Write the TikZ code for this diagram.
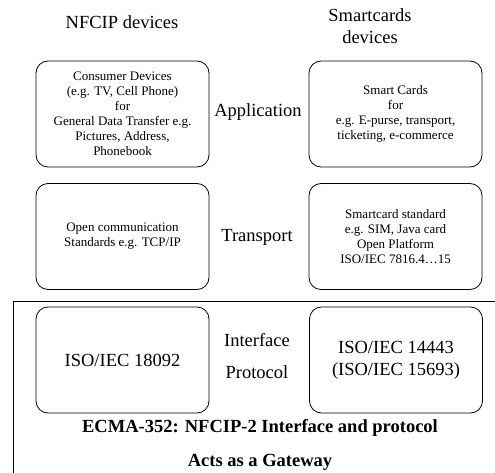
\documentclass[tikz,border=0pt]{standalone}
\usepackage{fontspec}
\setmainfont{Liberation Serif}
\begin{document}
\begin{tikzpicture}[x=1pt, y=-1pt, line width=0.8pt,
        layerbox/.style={draw, rounded corners=12pt, minimum width=173pt, minimum height=106pt,
            align=center, inner sep=0pt, font=\fontsize{13}{15}\selectfont},
        bigtext/.style={align=center, font=\fontsize{18.5}{22}\selectfont}]
        \useasboundingbox (0,0) rectangle (495,473);

        % Column headings
        \node[bigtext] (nfcip) at (122,22) {NFCIP devices};
        \node[bigtext] (smartcards) at (370,26) {Smartcards\\devices};

        % Application layer
        \node[layerbox] (nfcapp) at (122.5,114) {
            Consumer Devices \\
            (e.g. TV, Cell Phone) \\
            for \\
            General Data Transfer e.g. \\
            Pictures, Address, \\
            Phonebook
        };
        \node[bigtext] (application) at (258,112) {Application};
        \node[layerbox] (cardapp) at (395.5,114) {
            Smart Cards \\
            for \\
            e.g. E-purse, transport, \\
            ticketing, e-commerce
        };

        % Transport layer
        \node[layerbox] (nfctrans) at (122.5,236.5) {
            Open communication \\
            Standards e.g. TCP/IP
        };
        \node[bigtext] (transport) at (257,237) {Transport};
        \node[layerbox] (cardtrans) at (395.5,236.5) {
            Smartcard standard \\
            e.g. SIM, Java card \\
            Open Platform \\
            ISO/IEC 7816.4\ldots15
        };

        % Gateway frame, open to the right and below
        \begin{scope}
            \clip (0,0) rectangle (495,473);
            \draw (13,510) |- (510,301);
        \end{scope}

        % Interface and protocol layer
        \node[layerbox, font=\fontsize{18.5}{22}\selectfont] (nfcif) at (122.5,360) {ISO/IEC 18092};
        \node[bigtext] (interface) at (257,340) {Interface};
        \node[bigtext] (protocol) at (257,372) {Protocol};
        \node[layerbox, font=\fontsize{18.5}{22}\selectfont] (cardif) at (396,360) {
            ISO/IEC 14443 \\
            (ISO/IEC 15693)
        };

        % Captions
        \node[bigtext, font=\fontsize{18.5}{22}\selectfont\bfseries] (ecma) at (260,428) {ECMA-352: NFCIP-2 Interface and protocol};
        \node[bigtext, font=\fontsize{18.5}{22}\selectfont\bfseries] (gateway) at (260,462) {Acts as a Gateway};
    \end{tikzpicture}
\end{document}
